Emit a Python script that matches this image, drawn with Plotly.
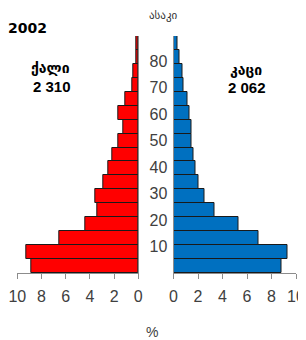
import plotly.graph_objects as go

# ---- data ----
age_groups = ["0-4", "5-9", "10-14", "15-19", "20-24", "25-29", "30-34", "35-39",
              "40-44", "45-49", "50-54", "55-59", "60-64", "65-69", "70-74", "75-79", "80+"]
women_pct = [8.81, 9.22, 6.55, 4.40, 3.39, 3.58, 2.90, 2.50, 2.16, 1.65, 1.26, 1.65,
             1.10, 0.50, 0.41, 0.20, 0.17]
men_pct = [8.79, 9.28, 6.96, 5.29, 3.38, 2.55, 2.05, 1.80, 1.60, 1.50, 1.45, 1.28,
           1.12, 0.80, 0.73, 0.45, 0.32]
age_ticks = [10, 20, 30, 40, 50, 60, 70, 80]
x_ticks = [0, 2, 4, 6, 8, 10]
year_label = "2002"
women_label = "ქალი"
women_total = "2 310"
men_label = "კაცი"
men_total = "2 062"
age_title = "ასაკი"
x_title = "%"

# page body has an 8px margin; figure sized to fill the rest of the window
OFF = 8
W, H = 306 - OFF, 340 - OFF
PLOT_TOP, PLOT_BOT = 36, 273          # window pixels of plot area
M_T = PLOT_TOP - OFF
M_B = (H + OFF) - PLOT_BOT
PLOT_H = PLOT_BOT - PLOT_TOP

def px(x):
    return (x - OFF) / W

def py(y):
    return (PLOT_BOT - y) / PLOT_H

AX_GRAY = "#8c8c8c"
TXT = "#404040"
TICKFONT = dict(family="Liberation Sans, Arial, sans-serif", size=16, color=TXT)

fig = go.Figure()
fig.add_trace(go.Bar(
    x=women_pct, y=age_groups, orientation="h", xaxis="x", yaxis="y",
    marker=dict(color="#FF0000", line=dict(color="#1a1a1a", width=1)),
    showlegend=False, hoverinfo="skip"))
fig.add_trace(go.Bar(
    x=men_pct, y=age_groups, orientation="h", xaxis="x2", yaxis="y2",
    marker=dict(color="#0070C0", line=dict(color="#1a1a1a", width=1)),
    showlegend=False, hoverinfo="skip"))
# carrier for the age-label axis (invisible)
fig.add_trace(go.Scatter(
    x=[None] * len(age_ticks), y=age_ticks, xaxis="x", yaxis="y3",
    mode="markers", marker=dict(opacity=0), showlegend=False, hoverinfo="skip"))

common_x = dict(
    tickvals=x_ticks, ticktext=[str(v) for v in x_ticks],
    ticks="outside", ticklen=5, tickcolor=AX_GRAY, tickwidth=1,
    showline=True, linecolor=AX_GRAY, linewidth=1, showgrid=False,
    zeroline=False, tickfont=TICKFONT, fixedrange=True, ticklabelstandoff=4)

fig.update_layout(
    width=W, height=H,
    margin=dict(l=0, r=0, t=M_T, b=M_B, autoexpand=False),
    paper_bgcolor="white", plot_bgcolor="white",
    bargap=0,
    xaxis=dict(common_x, domain=[px(17.3), px(138.3)], range=[10, 0], anchor="y"),
    xaxis2=dict(common_x, domain=[px(173.5), px(296)], range=[0, 10], anchor="y2"),
    yaxis=dict(domain=[0, 1], anchor="x", type="category", range=[-0.5, 16.5],
               showticklabels=False, ticks="", showline=True, linecolor=AX_GRAY,
               side="right", showgrid=False, zeroline=False),
    yaxis2=dict(domain=[0, 1], anchor="x2", type="category", range=[-0.5, 16.5],
                showticklabels=False, ticks="", showline=True, linecolor=AX_GRAY,
                side="left", showgrid=False, zeroline=False),
    yaxis3=dict(overlaying="y", anchor="x", side="right", range=[0, 89.5],
                tickvals=age_ticks, ticktext=[str(v) for v in age_ticks],
                ticks="outside", ticklen=7, tickcolor="rgba(0,0,0,0)",
                showline=False, showgrid=False, zeroline=False,
                tickfont=TICKFONT),
)

ann = []
def add(text, x, y, size, bold=False, family="DejaVu Sans, sans-serif", color="black"):
    ann.append(dict(text=("<b>%s</b>" % text) if bold else text,
                    x=px(x), y=py(y), xref="paper", yref="paper",
                    xanchor="center", yanchor="middle", showarrow=False,
                    font=dict(family=family, size=size, color=color)))

add(year_label, 27, 28, 14, bold=True)
add(women_label, 50, 68, 14, bold=True)
add(women_total, 52, 86, 15, bold=True, family="Liberation Sans, Arial, sans-serif")
add(men_label, 246, 70, 14, bold=True)
add(men_total, 247, 87, 15, bold=True, family="Liberation Sans, Arial, sans-serif")
add(age_title, 163, 16, 11, color="#333333")
add(x_title, 152, 332, 14, family="Liberation Sans, Arial, sans-serif", color=TXT)
fig.update_layout(annotations=ann)

fig.write_html("out.html")
